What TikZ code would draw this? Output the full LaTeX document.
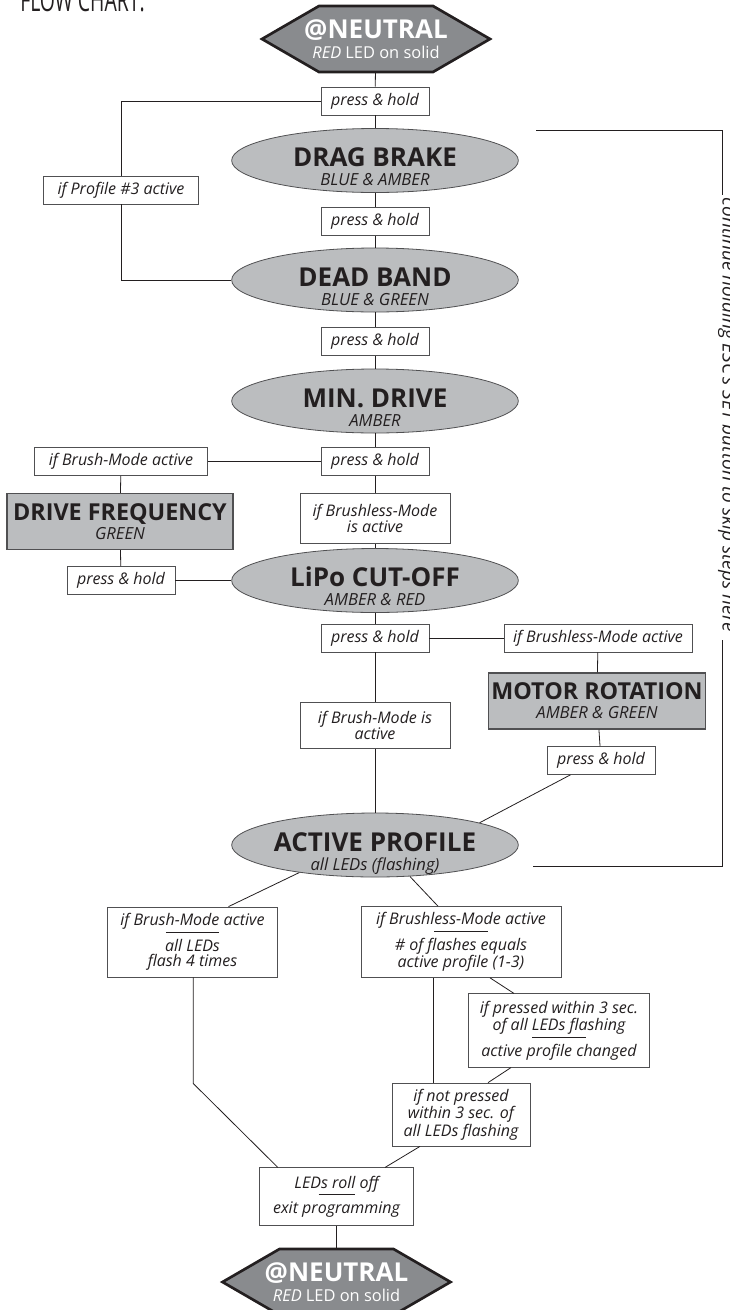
\documentclass[tikz,border=0pt]{standalone}
\usepackage{fontspec}
\setmainfont{Open Sans}
\usetikzlibrary{calc,shapes.geometric,positioning}

\definecolor{inkC}{RGB}{35,31,32}
\definecolor{stateGrey}{RGB}{187,189,191}
\definecolor{hexGrey}{RGB}{137,139,142}
\definecolor{edgeGrey}{RGB}{80,80,82}

% title + colour line of a state (ellipse: text sits a little low)
\newcommand\stateTxt[2]{\rule{0pt}{27.25pt}{\bfseries\fontsize{19.5}{14.25}\selectfont #1}\\{\itshape #2}\rule[-4pt]{0pt}{4pt}}
\newcommand\boxTxt[2]{{\bfseries\fontsize{17.5}{14.25}\selectfont #1}\\{\itshape #2}}
\newcommand\hexTxt{{\bfseries\fontsize{19.5}{15}\selectfont @NEUTRAL}\\\textit{RED} LED on solid}
\newcommand\midRule[1][40pt]{\\[-6.75pt]\rule{#1}{0.5pt}\\[2.25pt]}
\newcommand\hexShape[1]{\draw[hexLine,shift={(#1)}] (-114,0) -- (-57,-33) -- (57,-33) -- (114,0) -- (57,33) -- (-57,33) -- cycle;}

\tikzset{
  conn/.style={line width=0.6pt, draw=inkC},
  cond/.style={draw=edgeGrey, fill=white, line width=0.6pt, inner xsep=3pt, inner ysep=4.5pt,
    minimum height=20pt, minimum width=81pt, align=center, text=inkC,
    font=\itshape\fontsize{12}{11.75}\selectfont},
  stateEl/.style={ellipse, draw=edgeGrey, fill=stateGrey, line width=0.6pt, minimum width=215pt,
    minimum height=48pt, inner xsep=0pt, inner ysep=-6pt, align=center, text=inkC,
    font=\fontsize{12.5}{14.25}\selectfont},
  stateBox/.style={rectangle, draw=edgeGrey, fill=stateGrey, line width=1.1pt, minimum width=163pt,
    minimum height=42pt, inner sep=0pt, align=center, text=inkC,
    font=\fontsize{12.5}{14.25}\selectfont},
  hexWord/.style={minimum width=171pt, minimum height=49.5pt, inner sep=0pt, align=center, text=white,
    font=\fontsize{12.3}{15}\selectfont},
  hexLine/.style={draw=inkC, fill=hexGrey, line width=2pt, line join=miter},
  skipText/.style={rotate=-90, anchor=base, inner sep=0pt, text=inkC, font=\itshape\fontsize{14.3}{14.3}\selectfont},
}

\begin{document}
\begin{tikzpicture}[x=0.75pt,y=-0.75pt]
	%%%%% START %%%%%
	\useasboundingbox (0,0) rectangle (729,1310);
	
	\node[anchor=base west, inner sep=0pt, text=inkC, font=\fontsize{23.5}{23.5}\selectfont] (chartTitle) at (20,11) {\scalebox{0.62}[1]{FLOW CHART:}};
	
	\coordinate (topHexC) at (376,39);
	\hexShape{topHexC}
	\node[hexWord] (startN) at (topHexC) {\hexTxt};
	
	\node[cond] (ph1) at (375,101) {press \& hold};
	\node[cond, minimum width=116pt] (prof3) at (121,190) {if Profile \#3 active};
	\node[stateEl] (dragB) at (375,160.5) {\stateTxt{DRAG BRAKE}{BLUE \& AMBER}};
	\node[cond] (ph2) at (375,221.5) {press \& hold};
	\node[stateEl] (deadB) at (375,280) {\stateTxt{DEAD BAND}{BLUE \& GREEN}};
	\node[cond] (ph3) at (375,341.5) {press \& hold};
	\node[stateEl] (minD) at (375,401) {\stateTxt{MIN. DRIVE}{AMBER}};
	\node[cond] (ph4) at (375,461.5) {press \& hold};
	\node[cond, minimum width=130pt] (brushA) at (121,461.5) {if Brush-Mode active};
	\node[stateBox, minimum width=169.5pt] (driveF) at (120,521.5) {\boxTxt{DRIVE FREQUENCY}{GREEN}};
	\node[cond, minimum width=112.5pt, minimum height=38pt] (brlessA) at (375,518.5) {if Brushless-Mode\\is active};
	\node[cond] (ph5) at (121,580.5) {press \& hold};
	\node[stateEl] (lipo) at (375,580.5) {\stateTxt{LiPo CUT-OFF}{AMBER \& RED}};
	\node[cond] (ph6) at (375,638) {press \& hold};
	\node[cond, minimum width=141pt] (brlessB) at (598,638) {if Brushless-Mode active};
	\node[stateBox] (motorR) at (597,701) {\boxTxt{MOTOR ROTATION}{AMBER \& GREEN}};
	\node[cond] (ph7) at (601,760.5) {press \& hold};
	\node[cond, minimum width=112.5pt, minimum height=34pt] (brushB) at (375,725.5) {if Brush-Mode is\\active};
	\node[stateEl] (actP) at (375,845) {\stateTxt{ACTIVE PROFILE}{all LEDs (flashing)}};
	
	\node[cond, minimum width=128pt, minimum height=52.5pt] (brushC) at (192.5,942) {if Brush-Mode active\midRule all LEDs\\flash 4 times};
	\node[cond, minimum width=150pt, minimum height=52.5pt] (brlessC) at (461,942) {if Brushless-Mode active\midRule\# of flashes equals\\active profile (1-3)};
	\node[cond, minimum width=136pt, minimum height=55pt] (pressedW) at (559,1030.5) {if pressed within 3 sec.\\of all LEDs flashing\midRule active profile changed};
	\node[cond, minimum width=103.5pt, minimum height=47pt] (notPressed) at (461,1114.5) {if not pressed\\within 3 sec. of\\all LEDs flashing};
	\node[cond, minimum width=115pt, minimum height=43pt] (rollOff) at (336.5,1196.5) {LEDs roll off\midRule[27pt]exit programming};
	
	\coordinate (endHexC) at (336.5,1282);
	\hexShape{endHexC}
	\node[hexWord] (endN) at (endHexC) {\hexTxt};
	
	% main column
	\draw[conn] (startN) -- (ph1);
	\draw[conn] (ph1) -- (dragB);
	\draw[conn] (ph1.west) -| (prof3.north);
	\draw[conn] (prof3.south) |- (deadB.west);
	\draw[conn] (dragB) -- (ph2);
	\draw[conn] (ph2) -- (deadB);
	\draw[conn] (deadB) -- (ph3);
	\draw[conn] (ph3) -- (minD);
	\draw[conn] (minD) -- (ph4);
	\draw[conn] (ph4) -- (brlessA);
	\draw[conn] (brlessA) -- (lipo);
	\draw[conn] (lipo) -- (ph6);
	\draw[conn] (ph6) -- (brushB);
	\draw[conn] (brushB) -- (actP);
	
	% side branches
	\draw[conn] (ph4) -- (brushA);
	\draw[conn] (brushA) -- (driveF);
	\draw[conn] (driveF) -- (ph5);
	\draw[conn] (ph5) -- (lipo);
	\draw[conn] (ph6) -- (brlessB);
	\draw[conn] (brlessB) -- (motorR);
	\draw[conn] (motorR) -- (ph7);
	\draw[conn] ([xshift=-23pt]ph7.south) -- (actP.12);
	
	% skip bracket
	\coordinate (skipTop) at (536,130);
	\coordinate (skipBot) at (533,866);
	\node[skipText] (skipNote) at (722.5,415) {continue holding ESC's SET button to skip steps here};
	\draw[conn] (skipTop) -| ([yshift=2pt]skipNote.base west);
	\draw[conn] ([yshift=-6pt]skipNote.base east) |- (skipBot);
	
	% exit
	\draw[conn] (actP.200) -- ([xshift=27pt]brushC.north);
	\draw[conn] (actP.-42) -- ([xshift=-17.25pt]brlessC.north);
	\draw[conn] ([xshift=21.75pt]brlessC.south) -- ([xshift=-33.75pt]pressedW.north);
	\draw[conn] ([xshift=-21pt]brlessC.south) -- ([xshift=-21pt]notPressed.north);
	\draw[conn] ([xshift=-36pt]pressedW.south) -- ([xshift=20.25pt]notPressed.north);
	\draw[conn] ([xshift=0.5pt]brushC.south) -- ++(0,106) -- ([xshift=-44pt]rollOff.north);
	\draw[conn] ([xshift=-30.75pt]notPressed.south) -- ([xshift=36.4pt]rollOff.north);
	\draw[conn] (rollOff) -- (endN);
	
	%%%%% END %%%%%
\end{tikzpicture}
\end{document}
